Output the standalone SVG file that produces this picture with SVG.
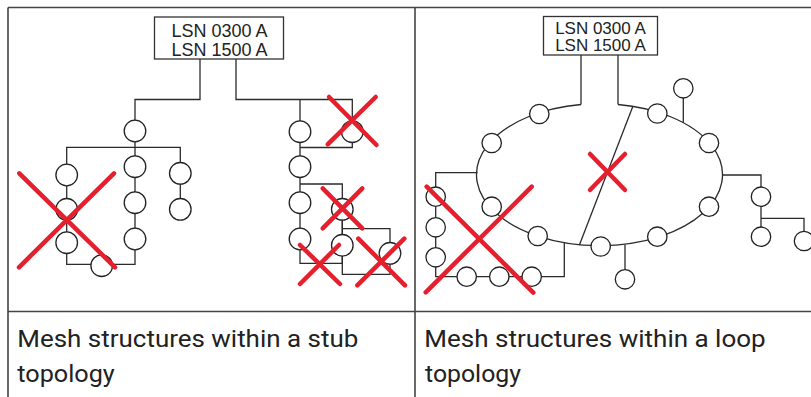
<svg xmlns="http://www.w3.org/2000/svg" width="811" height="397" viewBox="0 0 811 397">
<style>
.frame{stroke:#444;stroke-width:1.6;fill:none}
.ln{stroke:#2b2b2b;stroke-width:1.3;fill:none}
.nd{fill:#fff;stroke:#222;stroke-width:1.3}
.box{fill:#fff;stroke:#333;stroke-width:1.3}
.bt{font-family:"Liberation Sans",Arial,sans-serif;fill:#222;text-anchor:middle}
.cap{font-family:Roboto,"Liberation Sans",sans-serif;font-size:23px;fill:#222}
.x{stroke:#e5202e;stroke-width:4.5;stroke-linecap:round;fill:none}
</style>
<rect width="811" height="397" fill="#fff"/>
<g id="table">
<path class="frame" d="M8 7.5H811M8 7.5V397M415 7.5V397M8 311.5H811"/>
</g>
<g id="connectors">
<!-- left panel -->
<path class="ln" d="M200 59V99.5H135V131M236 59V99.5H352.3V131.7M300 99.5V131.7"/>
<path class="ln" d="M135 131V264.3H66.7V147.3H180.3V209.3"/>
<path class="ln" d="M300 131.7V263.3H342.3V184H300M300 147.5H352.3V131.7"/>
<path class="ln" d="M342.3 209.3V274.3H390V228.7H342.3"/>
<!-- right panel -->
<path class="ln" d="M581 55V104.5M618 55V104.5"/>
<path class="ln" d="M618 104.5A123 71 0 1 1 581 104.5"/>
<path class="ln" d="M632.7 106.7L579.3 245.3"/>
<path class="ln" d="M683.3 88.3V122.6M625 244.5V279.3"/>
<path class="ln" d="M477.5 172.7H435.7V276.7H564.3V243"/>
<path class="ln" d="M722.7 175H761V236.7M761 218.3H804V241"/>
</g>
<g id="controller-left">
<rect class="box" x="154.5" y="17" width="129" height="42"/>
<text class="bt" x="219.5" y="36.5" font-size="18">LSN 0300 A</text>
<text class="bt" x="219.5" y="56" font-size="18">LSN 1500 A</text>
</g>
<g id="controller-right">
<rect class="box" x="543.5" y="16.5" width="114" height="38.5"/>
<text class="bt" x="600.5" y="33.5" font-size="17">LSN 0300 A</text>
<text class="bt" x="600.5" y="51" font-size="17">LSN 1500 A</text>
</g>
<g id="stub-nodes">
<circle class="nd" cx="135" cy="131" r="10.8"/>
<circle class="nd" cx="66.7" cy="175" r="10.8"/>
<circle class="nd" cx="66.7" cy="209.3" r="10.8"/>
<circle class="nd" cx="66.7" cy="242.7" r="10.8"/>
<circle class="nd" cx="101.7" cy="265.7" r="10.8"/>
<circle class="nd" cx="135" cy="166.7" r="10.8"/>
<circle class="nd" cx="135" cy="202.7" r="10.8"/>
<circle class="nd" cx="135" cy="239" r="10.8"/>
<circle class="nd" cx="180.3" cy="173.3" r="10.8"/>
<circle class="nd" cx="180.3" cy="209.3" r="10.8"/>
<circle class="nd" cx="300" cy="131.7" r="10.8"/>
<circle class="nd" cx="352.3" cy="131.7" r="10.8"/>
<circle class="nd" cx="300" cy="166.7" r="10.8"/>
<circle class="nd" cx="300" cy="202.7" r="10.8"/>
<circle class="nd" cx="300" cy="239" r="10.8"/>
<circle class="nd" cx="342.3" cy="209.3" r="10.8"/>
<circle class="nd" cx="342.3" cy="245.3" r="10.8"/>
<circle class="nd" cx="390" cy="253.3" r="10.8"/>
</g>
<g id="loop-nodes">
<circle class="nd" cx="539.3" cy="114" r="9.7"/>
<circle class="nd" cx="491.7" cy="143" r="9.7"/>
<circle class="nd" cx="657.3" cy="113.5" r="9.7"/>
<circle class="nd" cx="709" cy="143" r="9.7"/>
<circle class="nd" cx="683.3" cy="88.3" r="9.7"/>
<circle class="nd" cx="491.7" cy="206.7" r="9.7"/>
<circle class="nd" cx="537.7" cy="236" r="9.7"/>
<circle class="nd" cx="600.7" cy="246.5" r="9.7"/>
<circle class="nd" cx="657.3" cy="236.7" r="9.7"/>
<circle class="nd" cx="709" cy="206.7" r="9.7"/>
<circle class="nd" cx="625" cy="279.3" r="9.7"/>
<circle class="nd" cx="435.7" cy="196.7" r="9.7"/>
<circle class="nd" cx="435.7" cy="227.3" r="9.7"/>
<circle class="nd" cx="435.7" cy="257.3" r="9.7"/>
<circle class="nd" cx="466.7" cy="276.7" r="9.7"/>
<circle class="nd" cx="499.3" cy="276.7" r="9.7"/>
<circle class="nd" cx="531.7" cy="276.7" r="9.7"/>
<circle class="nd" cx="761" cy="196.7" r="9.7"/>
<circle class="nd" cx="761" cy="236.7" r="9.7"/>
<circle class="nd" cx="804" cy="241" r="9.7"/>
</g>
<g id="faults">
<path class="x" d="M19.3 173.3L115 267.3M114 173.3L19 267.3"/>
<path class="x" d="M329 97L376.5 145M375.7 97L327.7 144.3"/>
<path class="x" d="M322.7 188.3L362.3 228.3M362.3 188.3L322.7 228.3"/>
<path class="x" d="M300 245L340 284M339 245L300 284"/>
<path class="x" d="M358.3 238.7L405 285.3M404.3 238.7L357.3 285.3"/>
<path class="x" d="M590 154L625 190M625 154L590 190" stroke-width="4"/>
<path class="x" d="M426.7 186.7L533.3 292.7M531.7 186.7L425.7 292.3"/>
</g>
<g id="captions">
<text class="cap" x="17.3" y="346.5" textLength="341" lengthAdjust="spacingAndGlyphs">Mesh structures within a stub</text>
<text class="cap" x="17.3" y="381.5" textLength="97.5" lengthAdjust="spacingAndGlyphs">topology</text>
<text class="cap" x="424.3" y="346.5" textLength="341.4" lengthAdjust="spacingAndGlyphs">Mesh structures within a loop</text>
<text class="cap" x="425" y="381.5" textLength="96" lengthAdjust="spacingAndGlyphs">topology</text>
</g>
</svg>
